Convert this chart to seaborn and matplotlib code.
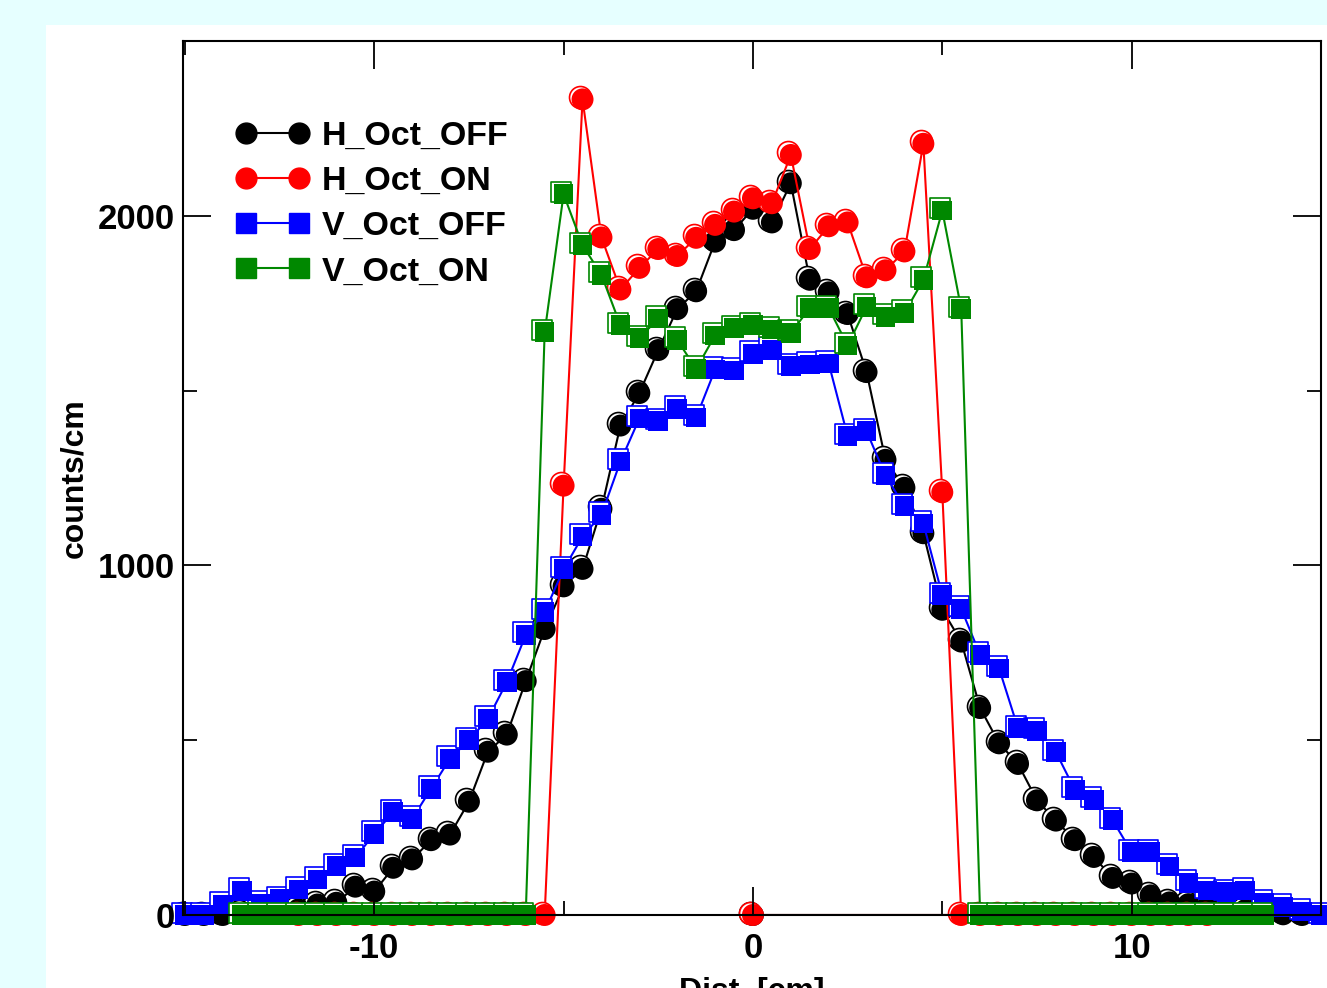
import numpy as np
import pandas as pd
import matplotlib
matplotlib.use('Agg')
import matplotlib.pyplot as plt
import matplotlib.transforms as mtransforms
from matplotlib.lines import Line2D
from matplotlib.patches import Rectangle
import seaborn as sns

# 측정 위치 [cm], 0.5 cm 간격
dist = [-15.0, -14.5, -14.0, -13.5, -13.0, -12.5, -12.0, -11.5, -11.0, -10.5,
        -10.0, -9.5, -9.0, -8.5, -8.0, -7.5, -7.0, -6.5, -6.0, -5.5,
        -5.0, -4.5, -4.0, -3.5, -3.0, -2.5, -2.0, -1.5, -1.0, -0.5,
        0.0, 0.5, 1.0, 1.5, 2.0, 2.5, 3.0, 3.5, 4.0, 4.5,
        5.0, 5.5, 6.0, 6.5, 7.0, 7.5, 8.0, 8.5, 9.0, 9.5,
        10.0, 10.5, 11.0, 11.5, 12.0, 12.5, 13.0, 13.5, 14.0, 14.5,
        15.0]

# H_Oct_OFF : -15 ~ 14.5
h_off = [0, 0, 0, 3, 5, 8, 16, 30, 35, 81,
         67, 135, 159, 214, 230, 324, 467, 516, 669, 818,
         940, 990, 1162, 1400, 1493, 1616, 1733, 1784, 1926, 1959,
         2020, 1981, 2093, 1817, 1781, 1719, 1553, 1302, 1222, 1092,
         873, 782, 592, 491, 432, 328, 270, 214, 166, 106,
         90, 56, 36, 31, 23, 17, 14, 8, 2, 0]

# H_Oct_ON : -12 ~ 12
h_on = [0, 0, 0, 0, 0, 0, 0, 0, 0, 0, 0, 0, 0, 0,
        1228, 2333, 1938, 1789, 1851, 1905, 1885, 1937, 1974, 2012,
        2050, 2036, 2174, 1905, 1970, 1981, 1824, 1844, 1898, 2206,
        1209,
        0, 0, 0, 0, 0, 0, 0, 0, 0, 0, 0, 0, 0, 0]

# V_Oct_OFF : -15 ~ 15
v_off = [0, 0, 30, 69, 32, 45, 73, 102, 140, 164,
         232, 294, 275, 361, 447, 500, 561, 666, 801, 867,
         989, 1083, 1145, 1297, 1420, 1413, 1448, 1423, 1560, 1557,
         1605, 1617, 1570, 1575, 1578, 1370, 1384, 1257, 1169, 1120,
         915, 876, 744, 705, 534, 527, 466, 358, 329, 271,
         180, 180, 139, 92, 70, 65, 70, 36, 23, 10,
         0]

# V_Oct_ON : -13.5 ~ 13.5
v_on = [0, 0, 0, 0, 0, 0, 0, 0, 0, 0, 0, 0, 0, 0, 0, 0,
        1667, 2062, 1916, 1831, 1687, 1650, 1706, 1645, 1562, 1658,
        1679, 1687, 1675, 1665, 1736, 1736, 1629, 1740, 1711, 1722,
        1817, 2015, 1733,
        0, 0, 0, 0, 0, 0, 0, 0, 0, 0, 0, 0, 0, 0, 0, 0]

# H 계열은 마지막에 (0, 0) 점이 하나 더 붙어 있음
tail_x = [0.0]
tail_y = [0]

labels = ['H_Oct_OFF', 'H_Oct_ON', 'V_Oct_OFF', 'V_Oct_ON']
colors = ['black', '#ff0000', '#0000ff', '#008800']
markers = ['o', 'o', 's', 's']

series_x = [dist[0:60] + tail_x, dist[6:55] + tail_x, dist[0:61], dist[3:58]]
series_y = [h_off + tail_y, h_on + tail_y, v_off, v_on]

sns.set_theme(style='ticks')
plt.rcParams['font.family'] = ['Liberation Sans', 'DejaVu Sans']
plt.rcParams['font.weight'] = 'bold'
plt.rcParams['axes.unicode_minus'] = False
for key in ['text.color', 'axes.labelcolor', 'xtick.color', 'ytick.color',
            'xtick.labelcolor', 'ytick.labelcolor']:
    plt.rcParams[key] = 'black'

fig = plt.figure(figsize=(13.27, 9.88), dpi=100, facecolor='#e6ffff')
fig.patches.append(Rectangle((46 / 1327, 0), 1, 1 - 25 / 988, transform=fig.transFigure,
                             facecolor='white', edgecolor='none', zorder=-10))
ax = fig.add_axes([183 / 1327, 1 - 915 / 988, (1321 - 183) / 1327, (915 - 41) / 988])
ax.set_zorder(1)
ax.set_facecolor('none')

offset = mtransforms.ScaledTranslation(-0.025, 0.025, fig.dpi_scale_trans)

for i in range(4):
    xs, ys, col, mk = series_x[i], series_y[i], colors[i], markers[i]
    size = 250 if mk == 'o' else 200
    z = 3 + 3 * i
    sns.lineplot(x=xs, y=ys, sort=False, estimator=None, color=col, lw=1.5,
                 ax=ax, zorder=z)
    sns.scatterplot(x=xs, y=ys, marker=mk, s=size, facecolor='white', edgecolor=col,
                    linewidth=1.2, transform=ax.transData + offset, ax=ax,
                    zorder=z + 1, clip_on=False)
    sns.scatterplot(x=xs, y=ys, marker=mk, s=size, color=col, edgecolor='none',
                    linewidth=0, ax=ax, zorder=z + 2, clip_on=False)

ax.set_xlim(-15.05, 14.9)
ax.set_ylim(0, 2500)
ax.set_xticks([-10, 0, 10])
ax.set_xticks([-15, -5, 5, 15], minor=True)
ax.set_yticks([0, 1000, 2000])
ax.set_yticks([500, 1500, 2500], minor=True)
ax.tick_params(which='both', direction='in', top=True, right=True, width=1.3, color='black')
ax.tick_params(which='major', length=20)
ax.tick_params(which='minor', length=10)
ax.tick_params(axis='x', which='major', labelsize=25, pad=12)
ax.tick_params(axis='y', which='major', labelsize=25, pad=6)
for s in ax.spines.values():
    s.set_linewidth(1.5)
    s.set_color('black')
    s.set_zorder(30)
ax.xaxis.set_zorder(30)
ax.yaxis.set_zorder(30)

ax.set_xlabel('Dist. [cm]', fontsize=23, fontweight='bold', labelpad=9)
ax.set_ylabel('counts/cm', fontsize=23, fontweight='bold', labelpad=6)

handles = [Line2D([], [], color=colors[i], marker=markers[i], lw=1.5,
                  markersize=15 if markers[i] == 'o' else 14) for i in range(4)]
ax.legend(handles, labels, loc='upper left', bbox_to_anchor=(0.046, 0.909),
          frameon=False, fontsize=24.5, numpoints=2, handlelength=2.16,
          handletextpad=0.38, labelspacing=0.42, borderpad=0, borderaxespad=0)

fig.savefig('out.png', dpi=100, facecolor=fig.get_facecolor())
